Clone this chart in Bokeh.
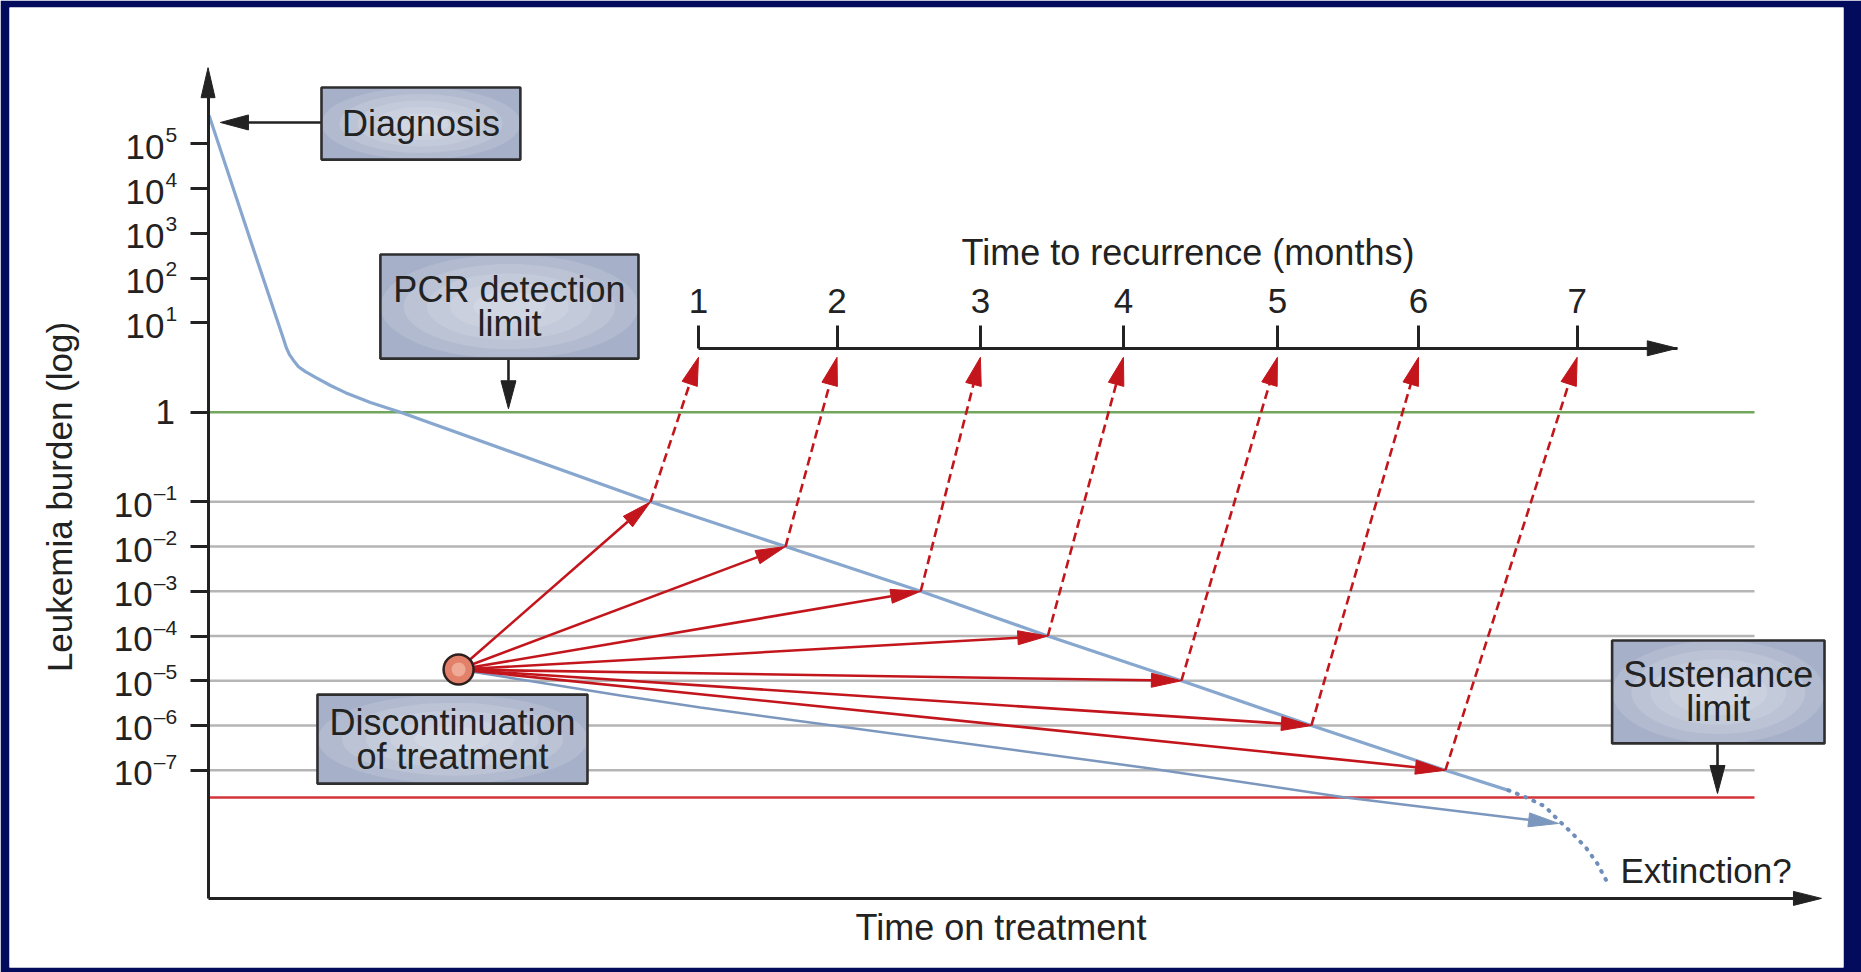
import numpy as np
from bokeh.core.properties import value
from bokeh.embed import file_html
from bokeh.models import ColumnDataSource, FixedTicker, LinearAxis, Range1d
from bokeh.plotting import figure
from bokeh.resources import INLINE

# ---- data (x: time on treatment, arbitrary units; y: decade position on the schematic log axis,
#      one unit per decade, the step to "1" and from "1" drawn two units tall) ----
TICK_LEVELS = [12, 11, 10, 9, 8, 6, 4, 3, 2, 1, 0, -1, -2]
TICK_BASE = ["10", "10", "10", "10", "10", "1", "10", "10", "10", "10", "10", "10", "10"]
TICK_EXP = ["5", "4", "3", "2", "1", "", "–1", "–2", "–3", "–4", "–5", "–6", "–7"]
GRID_LEVELS = [4, 3, 2, 1, 0, -1, -2]
PCR_LIMIT = 6
SUSTENANCE_LIMIT = -2.61

RECURRENCE_MONTHS = [1, 2, 3, 4, 5, 6, 7]
RECURRENCE_T = [30.48, 39.09, 48.0, 56.89, 66.46, 75.23, 85.09]

BURDEN_T = [0.06, 2.64, 4.70, 4.87, 5.06, 5.31, 5.62, 6.05, 6.68, 7.61, 8.54, 10.09, 11.96,
            27.50, 35.89, 44.29, 52.19, 60.49, 68.57, 76.90, 80.82]
BURDEN_L = [12.64, 9.84, 7.63, 7.44, 7.29, 7.16, 7.02, 6.91, 6.78, 6.60, 6.44, 6.22, 6.00,
            4, 3, 2, 1, 0, -1, -2, -2.45]
EXTINCTION_T = [80.82, 81.94, 83.09, 83.93, 84.78, 85.61, 86.33, 86.89]
EXTINCTION_L = [-2.45, -2.61, -2.81, -3.12, -3.41, -3.72, -4.08, -4.46]

STOP_T, STOP_L = 15.57, 0.25
RELAPSE_T = [27.50, 35.89, 44.29, 52.19, 60.49, 68.57, 76.90]
RELAPSE_L = [4, 3, 2, 1, 0, -1, -2]
NO_RELAPSE_T = [15.57, 25.63, 30.6, 58.57, 70.69, 83.93]
NO_RELAPSE_L = [0.25, -0.33, -0.60, -1.96, -2.61, -3.19]

# ---- layout ----
WIDTH, HEIGHT = 1861, 972
B_LEFT, B_RIGHT, B_TOP, B_BOTTOM = 9, 18, 7, 5
FRAME_W = WIDTH - B_LEFT - B_RIGHT
FRAME_H = HEIGHT - B_TOP - B_BOTTOM
X_START, X_END = -12.34, 101.64
Y_START, Y_END = -6.41, 15.05
PX_X = FRAME_W / (X_END - X_START)
PX_Y = FRAME_H / (Y_END - Y_START)

X_AXIS_L = -4.865
Y_AXIS_TOP = 13.705
X_AXIS_END = 100.27
TOP_AXIS_L = 7.432
TOP_AXIS_END = 91.31
GRID_END = 96.11

BOX_LINES = [["Diagnosis"], ["PCR detection", "limit"],
             ["Discontinuation", "of treatment"], ["Sustenance", "limit"]]
BOX_LEFT = [7.05, 10.71, 6.80, 87.26]
BOX_RIGHT = [19.41, 26.75, 23.58, 100.46]
BOX_TOP = [13.26, 9.53, -0.31, 0.90]
BOX_BOTTOM = [11.65, 7.20, -2.30, -1.40]

POINTERS = [(7.05, 12.48, 0.77, 12.48), (18.67, 7.20, 18.67, 6.08), (93.81, -1.40, 93.81, -2.52)]

NAVY = "#020b5c"
INK = "#222222"
RED = "#c3161c"
BLUE = "#88a7cf"
FONT = "Liberation Sans"
HEAD_LEN = 28


def arrow_head(x0, y0, x1, y1, length, width):
    dx, dy = (x1 - x0) * PX_X, (y1 - y0) * PX_Y
    norm = np.hypot(dx, dy)
    ux, uy = dx / norm, dy / norm
    bx, by = -ux * length, -uy * length
    nx, ny = -uy * width / 2, ux * width / 2
    xs = [x1, x1 + (bx + nx) / PX_X, x1 + (bx - nx) / PX_X]
    ys = [y1, y1 + (by + ny) / PX_Y, y1 + (by - ny) / PX_Y]
    return xs, ys, (x1 + bx / PX_X, y1 + by / PX_Y)


def draw_arrows(p, x0s, y0s, x1s, y1s, color, line_width, dash="solid", head=(28, 14)):
    hxs, hys, ex, ey = [], [], [], []
    for x0, y0, x1, y1 in zip(x0s, y0s, x1s, y1s):
        hx, hy, (bx, by) = arrow_head(x0, y0, x1, y1, *head)
        hxs.append(hx)
        hys.append(hy)
        ex.append(bx)
        ey.append(by)
    p.segment(x0=list(x0s), y0=list(y0s), x1=ex, y1=ey, line_color=color,
              line_width=line_width, line_dash=dash)
    p.patches(hxs, hys, fill_color=color, line_color=color, line_width=1)


p = figure(width=WIDTH, height=HEIGHT, title=None,
           x_range=Range1d(X_START, X_END), y_range=Range1d(Y_START, Y_END),
           x_axis_location=None, y_axis_location=None,
           toolbar_location=None, output_backend="svg",
           min_border_left=B_LEFT, min_border_right=B_RIGHT,
           min_border_top=B_TOP, min_border_bottom=B_BOTTOM,
           background_fill_color="white", border_fill_color=NAVY,
           outline_line_color=None,
           styles={"position": "absolute", "left": "0px", "top": "0px"})
p.xgrid.grid_line_color = None
p.ygrid.grid_line_color = None

# horizontal reference lines
p.segment(x0=0, x1=GRID_END, y0=GRID_LEVELS, y1=GRID_LEVELS, line_color="#b5b5b5", line_width=2.5)
p.segment(x0=0, x1=GRID_END, y0=PCR_LIMIT, y1=PCR_LIMIT, line_color="#72a65c", line_width=2.5)
p.segment(x0=0, x1=GRID_END, y0=SUSTENANCE_LIMIT, y1=SUSTENANCE_LIMIT, line_color="#d2343a", line_width=2.5)

# leukemia burden on treatment
p.line(BURDEN_T, BURDEN_L, line_color=BLUE, line_width=3.2, line_join="round")
p.line(EXTINCTION_T, EXTINCTION_L, line_color="#6f8fba", line_width=4,
       line_dash="1 8", line_cap="round")

# course without relapse after stopping
hx, hy, (bx, by) = arrow_head(NO_RELAPSE_T[-2], NO_RELAPSE_L[-2], NO_RELAPSE_T[-1], NO_RELAPSE_L[-1], 30, 14)
p.line(NO_RELAPSE_T[:-1] + [bx], NO_RELAPSE_L[:-1] + [by], line_color="#7c97bd", line_width=2.5)
p.patches([hx], [hy], fill_color="#7c97bd", line_color="#7c97bd")

# relapse trajectories and time to recurrence
n = len(RELAPSE_T)
draw_arrows(p, [STOP_T] * n, [STOP_L] * n, RELAPSE_T, RELAPSE_L, RED, 2.6, head=(30, 14))
tip_l = TOP_AXIS_L - 9 / PX_Y
draw_arrows(p, RELAPSE_T, RELAPSE_L, RECURRENCE_T, [tip_l] * n, RED, 2.6, dash="9 5", head=(28, 16))

# axes
left = LinearAxis(fixed_location=0, bounds=(X_AXIS_L, Y_AXIS_TOP - HEAD_LEN / PX_Y),
                  ticker=FixedTicker(ticks=TICK_LEVELS),
                  major_label_overrides={lvl: "" for lvl in TICK_LEVELS},
                  axis_label="Leukemia burden (log)")
top = LinearAxis(fixed_location=TOP_AXIS_L, bounds=(RECURRENCE_T[0], TOP_AXIS_END),
                 ticker=FixedTicker(ticks=RECURRENCE_T),
                 major_label_overrides={t: str(m) for t, m in zip(RECURRENCE_T, RECURRENCE_MONTHS)},
                 axis_label="Time to recurrence (months)")
bottom = LinearAxis(fixed_location=X_AXIS_L, bounds=(0, X_AXIS_END - HEAD_LEN / PX_X),
                    ticker=FixedTicker(ticks=[]), axis_label="Time on treatment")
for ax in (left, top, bottom):
    ax.axis_line_color = INK
    ax.axis_line_width = 3
    ax.major_tick_line_color = INK
    ax.major_tick_line_width = 3
    ax.major_tick_in = 0
    ax.minor_tick_line_color = None
    ax.major_label_text_font = FONT
    ax.major_label_text_color = INK
    ax.axis_label_text_font = FONT
    ax.axis_label_text_color = INK
    ax.axis_label_text_font_style = "normal"
    ax.axis_label_text_font_size = "36px"
left.major_tick_out = 18
left.major_label_standoff = 0
left.axis_label_standoff = 112
left.axis_label_text_font_size = "35px"
top.major_tick_out = 23
top.major_label_standoff = 12
top.major_label_text_font_size = "35px"
top.axis_label_standoff = 14
bottom.major_tick_out = 0
bottom.major_label_standoff = 0
bottom.axis_label_standoff = 8
p.add_layout(left, "left")
p.add_layout(top, "above")
p.add_layout(bottom, "below")

# tick labels of the burden axis: "10" with a raised exponent
EXP_SIZE = 21
base_dx, base_dy = [], []
for base, exp in zip(TICK_BASE, TICK_EXP):
    if exp:
        base_dx.append(-31 - len(exp) * 0.556 * EXP_SIZE - 1)
        base_dy.append(3)
    else:
        base_dx.append(-33)
        base_dy.append(0)
p.text(x=0, y=TICK_LEVELS, text=TICK_BASE, x_offset=base_dx, y_offset=base_dy,
       text_font=value(FONT), text_font_size="35px", text_color=INK,
       text_align="right", text_baseline="middle")
exp_idx = [i for i, e in enumerate(TICK_EXP) if e]
p.text(x=0, y=[TICK_LEVELS[i] for i in exp_idx], text=[TICK_EXP[i] for i in exp_idx],
       x_offset=-31, y_offset=-9, text_font=value(FONT), text_font_size=f"{EXP_SIZE}px",
       text_color=INK, text_align="right", text_baseline="middle")

# axis arrow heads and pointer arrows
heads = [arrow_head(0, X_AXIS_L, 0, Y_AXIS_TOP, 30, 14),
         arrow_head(0, X_AXIS_L, X_AXIS_END, X_AXIS_L, HEAD_LEN, 14),
         arrow_head(RECURRENCE_T[0], TOP_AXIS_L, TOP_AXIS_END, TOP_AXIS_L, 30, 15)]
p.patches([h[0] for h in heads], [h[1] for h in heads], fill_color=INK, line_color=INK)
draw_arrows(p, *zip(*POINTERS), INK, 2.6, head=(28, 15))

# label boxes with a soft radial highlight
cx = [(l + r) / 2 for l, r in zip(BOX_LEFT, BOX_RIGHT)]
cy = [(t + b) / 2 for t, b in zip(BOX_TOP, BOX_BOTTOM)]
bw = [r - l for l, r in zip(BOX_LEFT, BOX_RIGHT)]
bh = [t - b for t, b in zip(BOX_TOP, BOX_BOTTOM)]
p.quad(left=BOX_LEFT, right=BOX_RIGHT, top=BOX_TOP, bottom=BOX_BOTTOM,
       fill_color="#a6b0c8", line_color=None)
for s in (1.0, 0.82, 0.64, 0.46, 0.28):
    p.ellipse(x=cx, y=cy, width=[w * s for w in bw], height=[h * s for h in bh],
              fill_color="white", fill_alpha=0.13, line_color=None)
p.quad(left=BOX_LEFT, right=BOX_RIGHT, top=BOX_TOP, bottom=BOX_BOTTOM,
       fill_color=None, line_color="#2e2e2e", line_width=2.6)

tx, ty, tt, toff = [], [], [], []
for lines, x, y in zip(BOX_LINES, cx, cy):
    for i, line in enumerate(lines):
        tx.append(x)
        ty.append(y)
        tt.append(line)
        toff.append((i - (len(lines) - 1) / 2) * 34)
labels = ColumnDataSource(dict(x=tx, y=ty, text=tt, dy=toff))
p.text(x="x", y="y", text="text", y_offset="dy", source=labels,
       text_font=value(FONT), text_font_size="36px", text_color=INK,
       text_align="center", text_baseline="middle")
p.text(x=[87.78], y=[-4.25], text=["Extinction?"], text_font=value(FONT),
       text_font_size="35px", text_color=INK, text_align="left", text_baseline="middle")

# discontinuation point
p.scatter([STOP_T], [STOP_L], marker="circle", size=30, fill_color="#e3806a",
          line_color="#2f2020", line_width=2.5)
p.scatter([STOP_T], [STOP_L], marker="circle", size=14, fill_color="#f5c6b0",
          fill_alpha=0.6, line_color=None)

open("out.html", "w").write(file_html(p, INLINE))
